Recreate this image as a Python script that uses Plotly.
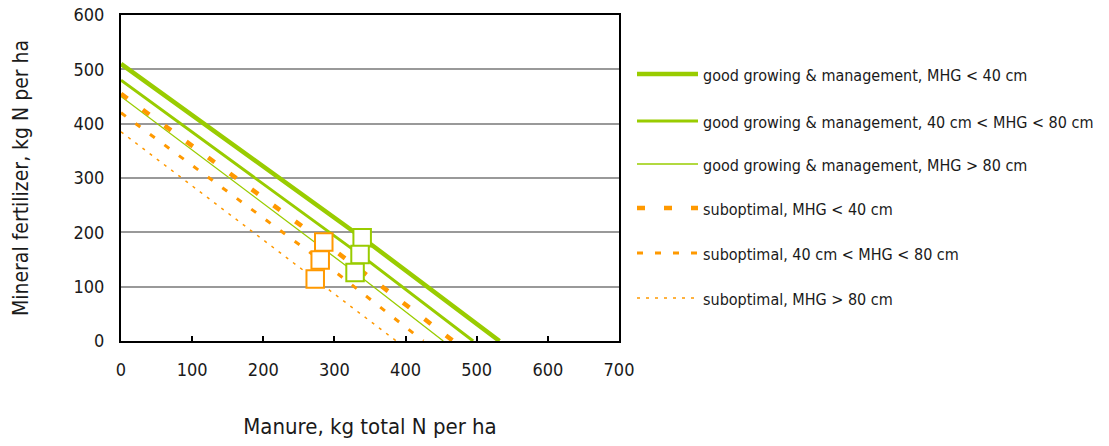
import plotly.graph_objects as go

# Six recommendation lines: mineral fertilizer N vs. manure N
series_names = [
    "good growing & management, MHG < 40 cm",
    "good growing & management, 40 cm < MHG < 80 cm",
    "good growing & management, MHG > 80 cm",
    "suboptimal, MHG < 40 cm",
    "suboptimal, 40 cm < MHG < 80 cm",
    "suboptimal, MHG > 80 cm",
]
fert_without_manure = [510, 480, 450, 455, 420, 385]   # y at manure = 0
manure_without_fert = [532, 495, 453, 467, 425, 387]   # x at fertilizer = 0
point_manure = [339, 336, 329, 285, 280, 273]          # highlighted point, x
point_fert = [190, 159, 126, 182, 149, 114]            # highlighted point, y

x_ticks = [0, 100, 200, 300, 400, 500, 600, 700]
y_ticks = [0, 100, 200, 300, 400, 500, 600]

GREEN = "#99CC00"
ORANGE = "#FF9900"
FONT = "DejaVu Sans Condensed, sans-serif"

styles = [
    dict(color=GREEN, width=4.5, dash="solid"),
    dict(color=GREEN, width=3, dash="solid"),
    dict(color=GREEN, width=1.3, dash="solid"),
    dict(color=ORANGE, width=4.5, dash="8px,19px"),
    dict(color=ORANGE, width=3, dash="6px,12px"),
    dict(color=ORANGE, width=1.5, dash="3px,6px"),
]
marker_colors = [GREEN, GREEN, GREEN, ORANGE, ORANGE, ORANGE]

fig = go.Figure()

for i, name in enumerate(series_names):
    fig.add_trace(go.Scatter(
        x=[0, point_manure[i], manure_without_fert[i]],
        y=[fert_without_manure[i], point_fert[i], 0],
        mode="lines", name=name, line=styles[i], showlegend=False,
        hoverinfo="skip",
    ))

for i, name in enumerate(series_names):
    fig.add_trace(go.Scatter(
        x=[point_manure[i]], y=[point_fert[i]], mode="markers",
        name=name, showlegend=False,
        marker=dict(symbol="square", size=17.5, color="white",
                    line=dict(color=marker_colors[i], width=2)),
    ))

# Plot area in pixels: left 121, right 619, top 15, bottom 341
L, R, T, B = 121, 619, 15, 341
W, H = 1109, 446


def px_x(p):
    return (p - L) / (R - L)


def px_y(p):
    return (B - p) / (B - T)


# Legend drawn beside the plot area
legend_rows = [74, 121, 164, 208, 253, 298]
shapes = []
annotations = []
for i, name in enumerate(series_names):
    st = styles[i]
    shapes.append(dict(
        type="line", xref="paper", yref="paper",
        x0=px_x(637), x1=px_x(698), y0=px_y(legend_rows[i]), y1=px_y(legend_rows[i]),
        line=dict(color=st["color"], width=st["width"], dash=st["dash"]),
    ))
    annotations.append(dict(
        xref="paper", yref="paper", x=px_x(701), y=px_y(legend_rows[i] + 1),
        text=name, showarrow=False, xanchor="left", yanchor="middle",
        font=dict(family=FONT, size=16, color="#1a1a1a"),
    ))

fig.update_layout(
    width=W, height=H,
    margin=dict(l=L, r=W - R, t=T, b=H - B, pad=0),
    paper_bgcolor="white", plot_bgcolor="white",
    font=dict(family=FONT, size=18, color="#1a1a1a"),
    showlegend=False,
    shapes=shapes, annotations=annotations,
    xaxis=dict(
        range=[0, 700], tickvals=x_ticks, showgrid=False, zeroline=False,
        automargin=False,
        showline=True, linecolor="black", linewidth=2, mirror=True,
        ticks="inside", ticklen=5, tickcolor="black", tickwidth=1.5,
        ticklabelstandoff=11,
        title=dict(text="Manure, kg total N per ha", font=dict(size=22), standoff=40),
    ),
    yaxis=dict(
        range=[0, 600], tickvals=y_ticks, showgrid=True, gridcolor="#999999",
        gridwidth=1.5, zeroline=False, automargin=False,
        showline=True, linecolor="black", linewidth=2, mirror=True,
        ticks="", ticklabelstandoff=11,
        title=dict(text="Mineral fertilizer, kg N per ha", font=dict(size=21), standoff=39),
    ),
)

fig.write_html("out.html")
